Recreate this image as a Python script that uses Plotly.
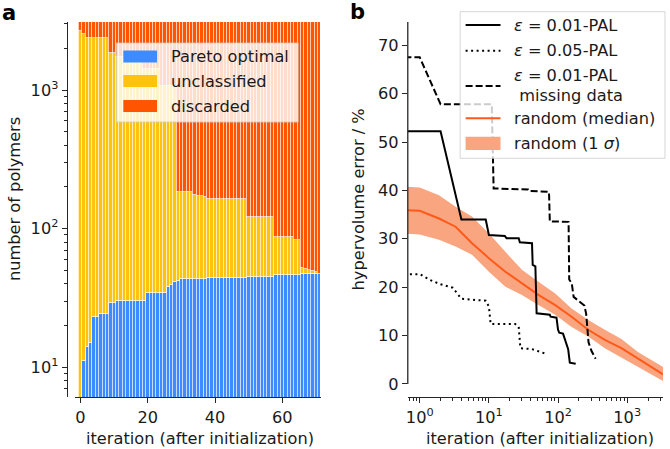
import plotly.graph_objects as go

W, H = 670, 449

# ---------------- Panel a data ----------------
iterations = list(range(72))
pareto_optimal = [0, 11, 14, 15, 23, 23, 24, 24, 24, 29, 29,
                  30, 30, 30, 30, 30, 30, 30, 30, 30,
                  34, 34, 34, 34, 34, 34,
                  38, 39, 41, 42,
                  43, 43, 43, 43, 43, 43, 43, 43,
                  44, 44, 44, 44, 44, 44, 44, 44, 44, 44, 44, 44,
                  45, 45, 45, 45, 45, 45, 45, 45,
                  46, 46, 46, 46, 46, 46, 46, 46,
                  47, 47, 47, 47, 47, 47]
unclassified = [2670, 2524, 2366, 2365, 2357, 2357, 2356, 2356, 2356, 1831, 1831,
                1710, 1710, 1710, 1710, 1710, 1710, 1710, 1710,
                1400, 1396, 1396, 1396, 1396,
                1036, 1036, 1032, 1031, 1029,
                143, 142, 142, 142, 142,
                132, 130, 130, 127,
                119, 119, 119, 119, 119, 119, 119, 119, 119, 119, 119, 119,
                76, 76, 76, 76, 76, 76, 76, 76,
                41, 41, 41, 41, 41, 41,
                37, 37,
                4.6, 4.0, 3.3, 2.6, 1.3, 0.3]
discarded = [430, 565, 720, 720, 720, 720, 720, 720, 720, 1240, 1240,
             1360, 1360, 1360, 1360, 1360, 1360, 1360, 1360,
             1670, 1670, 1670, 1670, 1670,
             2030, 2030, 2030, 2030, 2030,
             2915, 2915, 2915, 2915, 2915,
             2925, 2927, 2927, 2930,
             2937, 2937, 2937, 2937, 2937, 2937, 2937, 2937, 2937, 2937, 2937, 2937,
             2979, 2979, 2979, 2979, 2979, 2979, 2979, 2979,
             3013, 3013, 3013, 3013, 3013, 3013,
             3017, 3017,
             3048.4, 3049, 3049.7, 3050.4, 3051.7, 3052.7]
a_ytick_vals = [10, 100, 1000]
a_ytick_text = ["10<sup>1</sup>", "10<sup>2</sup>", "10<sup>3</sup>"]
a_xtick_vals = [0, 20, 40, 60]

# ---------------- Panel b data ----------------
pal001_x = [0.6, 2, 4, 9, 10, 17, 18, 27, 28, 42, 43, 47, 49, 76, 78, 95, 100, 104, 118, 140, 148, 180]
pal001_y = [52.2, 52.2, 34, 34, 30.8, 30.6, 30.1, 30.1, 29.3, 29.1, 24.6, 24.3, 14.6, 14.3, 13.9, 13.7,
            11.2, 10.6, 10.4, 7.2, 4.4, 4.2]
pal005_x = [0.6, 1, 1.4, 2, 3, 4, 9, 10, 10.6, 24, 27, 28.5, 42, 52, 68]
pal005_y = [22.7, 22.7, 21.5, 20.6, 19.9, 17.6, 17.2, 16.0, 12.4, 12.4, 11.8, 7.4, 7.2, 6.7, 6.2]
missing_x = [0.6, 1, 2, 11, 11.7, 37, 38, 74, 76, 142, 145, 158, 168, 240, 255, 262, 276, 305, 350]
missing_y = [67.5, 67.5, 57.8, 57.8, 40.4, 40.2, 39.9, 39.7, 33.6, 33.5, 21.6, 20.8, 18.0, 16.2, 14.5,
             11.8, 8.6, 6.8, 5.2]
random_x = [0.6, 1, 1.9, 3.3, 5.7, 10, 17.3, 30, 52, 91, 157, 273, 475, 825, 1430, 3300]
random_median = [35.9, 35.8, 34.2, 32.5, 29.1, 26.0, 23.2, 20.8, 18.4, 16.3, 13.9, 11.2, 9.1, 7.4, 5.2, 2.0]
random_upper = [40.8, 40.6, 39.0, 36.6, 34.6, 31.1, 27.3, 23.6, 21.1, 18.7, 15.6, 13.2, 11.2, 9.3, 6.6, 3.5]
random_lower = [31.1, 30.9, 29.8, 28.4, 26.7, 23.2, 20.1, 18.4, 16.3, 14.3, 11.8, 9.8, 7.4, 5.5, 3.5, 0.6]
b_ytick_vals = [0, 10, 20, 30, 40, 50, 60, 70]
b_xtick_vals = [1, 10, 100, 1000]
b_xtick_text = ["10<sup>0</sup>", "10<sup>1</sup>", "10<sup>2</sup>", "10<sup>3</sup>"]

# ---------------- styles ----------------
FONT = "DejaVu Sans"
TXT = "#1a1a1a"
SPINE = "#262626"
BLUE = "#3d8bff"
YELLOW = "#ffc20e"
ORANGE = "#ff5500"
MEDIAN = "#ff5a1a"
BAND = "rgb(249,165,128)"
FS = 16.2


def px(x):
    return x / W


def py(y):
    return 1 - y / H


fig = go.Figure()

# panel a bars
for name, vals, col in [("Pareto optimal", pareto_optimal, BLUE),
                        ("unclassified", unclassified, YELLOW),
                        ("discarded", discarded, ORANGE)]:
    fig.add_trace(go.Bar(x=iterations, y=vals, name=name, marker_color=col,
                         marker_line=dict(color="white", width=0.7), width=1,
                         xaxis="x", yaxis="y", showlegend=False))

# panel b band + median
fig.add_trace(go.Scatter(x=random_x, y=random_lower, mode="lines", line=dict(width=0, color=BAND),
                         xaxis="x2", yaxis="y2", showlegend=False, hoverinfo="skip"))
fig.add_trace(go.Scatter(x=random_x, y=random_upper, mode="lines", line=dict(width=0, color=BAND),
                         fill="tonexty", fillcolor=BAND, name="random (1 σ)",
                         xaxis="x2", yaxis="y2", showlegend=False))
fig.add_trace(go.Scatter(x=random_x, y=random_median, mode="lines", line=dict(width=2, color=MEDIAN),
                         name="random (median)", xaxis="x2", yaxis="y2", showlegend=False))
fig.add_trace(go.Scatter(x=pal001_x, y=pal001_y, mode="lines", line=dict(width=2, color="black"),
                         name="ε = 0.01-PAL", xaxis="x2", yaxis="y2", showlegend=False))
fig.add_trace(go.Scatter(x=pal005_x, y=pal005_y, mode="lines",
                         line=dict(width=2, color="black", dash="2px,3.5px"),
                         name="ε = 0.05-PAL", xaxis="x2", yaxis="y2", showlegend=False))
fig.add_trace(go.Scatter(x=missing_x, y=missing_y, mode="lines",
                         line=dict(width=2, color="black", dash="7px,3px"),
                         name="ε = 0.01-PAL missing data", xaxis="x2", yaxis="y2", showlegend=False))

tick_common = dict(ticks="outside", ticklen=5, tickwidth=1.3, tickcolor=SPINE,
                   tickfont=dict(family=FONT, size=FS, color=TXT), showgrid=False, zeroline=False)

fig.update_layout(
    width=W, height=H, autosize=False,
    margin=dict(l=0, r=0, t=0, b=0),
    paper_bgcolor="white", plot_bgcolor="white",
    barmode="stack", bargap=0,
    font=dict(family=FONT, size=FS, color=TXT),
    xaxis=dict(domain=[px(73), px(320)], range=[-1.7, 71.5], anchor="y",
               tickvals=a_xtick_vals, showline=True, linecolor=SPINE, linewidth=1.3,
               **tick_common),
    yaxis=dict(domain=[py(397), py(22)], type="log", range=[0.784, 3.4914],
               anchor="free", position=px(65),
               tickvals=a_ytick_vals, ticktext=a_ytick_text,
               showline=True, linecolor=SPINE, linewidth=1.3,
               minor=dict(ticks="outside", ticklen=3, tickwidth=1, tickcolor=SPINE,
                          tickvals=[7, 8, 9, 20, 30, 40, 50, 60, 70, 80, 90,
                                    200, 300, 400, 500, 600, 700, 800, 900, 2000, 3000]),
               **tick_common),
    xaxis2=dict(domain=[px(407), px(663)], type="log", range=[-0.173, 3.518], anchor="y2",
                tickvals=b_xtick_vals, ticktext=b_xtick_text,
                showline=True, linecolor=SPINE, linewidth=1.3,
                minor=dict(ticks="outside", ticklen=3, tickwidth=1, tickcolor=SPINE,
                           tickvals=[0.7, 0.8, 0.9, 2, 3, 4, 5, 6, 7, 8, 9,
                                     20, 30, 40, 50, 60, 70, 80, 90,
                                     200, 300, 400, 500, 600, 700, 800, 900, 2000, 3000]),
                **tick_common),
    yaxis2=dict(domain=[py(397), py(22)], range=[-2.69, 74.8], anchor="x2",
                tickvals=b_ytick_vals, showline=False, **tick_common),
)

shapes = []
ann = []

# right panel left spine (trimmed to 0..top)
shapes.append(dict(type="line", xref="paper", yref="y2", x0=px(407), x1=px(407), y0=0, y1=74.8,
                   line=dict(color=SPINE, width=1.3), layer="above"))

# ---------- legend a ----------
shapes.append(dict(type="rect", xref="paper", yref="paper", x0=px(115), x1=px(297), y0=py(122), y1=py(43),
                   fillcolor="rgba(255,255,255,0.8)", line=dict(color="rgba(204,204,204,0.8)", width=1),
                   layer="above"))
leg_a = [("Pareto optimal", BLUE, 50.5, 62.5), ("unclassified", YELLOW, 75, 87), ("discarded", ORANGE, 100, 112)]
for label, col, y0, y1 in leg_a:
    shapes.append(dict(type="rect", xref="paper", yref="paper", x0=px(121.7), x1=px(155.5),
                       y0=py(y1), y1=py(y0), fillcolor=col, line=dict(width=0), layer="above"))
    ann.append(dict(text=label, x=px(168), y=py((y0 + y1) / 2), xanchor="left", yanchor="middle"))

# ---------- legend b ----------
shapes.append(dict(type="rect", xref="paper", yref="paper", x0=px(459.5), x1=px(665), y0=py(158.3), y1=py(11.7),
                   fillcolor="rgba(255,255,255,0.8)", line=dict(color="rgba(204,204,204,0.8)", width=1),
                   layer="above"))
for yy, dash, col in [(25, "solid", "black"), (50.7, "2px,3.5px", "black"), (86, "7px,3px", "black"),
                      (118.3, "solid", MEDIAN)]:
    shapes.append(dict(type="line", xref="paper", yref="paper", x0=px(465), x1=px(500), y0=py(yy), y1=py(yy),
                       line=dict(color=col, width=2, dash=dash), layer="above"))
shapes.append(dict(type="rect", xref="paper", yref="paper", x0=px(465), x1=px(500), y0=py(150), y1=py(136.7),
                   fillcolor=BAND, line=dict(width=0), layer="above"))
for text, xx, yy in [("<i>ε</i> = 0.01-PAL", 512, 25), ("<i>ε</i> = 0.05-PAL", 512, 50.7),
                     ("<i>ε</i> = 0.01-PAL", 512, 75.5), (" missing data", 512, 95),
                     ("random (median)", 512, 118.3), ("random (1 <i>σ</i>)", 512, 143.3)]:
    ann.append(dict(text=text, x=px(xx), y=py(yy), xanchor="left", yanchor="middle"))

# axis titles
ann.append(dict(text="iteration (after initialization)", x=px(198.3), y=py(438), xanchor="center", yanchor="middle"))
ann.append(dict(text="iteration (after initialization)", x=px(539.3), y=py(438), xanchor="center", yanchor="middle"))
ann.append(dict(text="number of polymers", x=px(12), y=py(199), xanchor="center", yanchor="middle", textangle=-90))
ann.append(dict(text="hypervolume error / %", x=px(358), y=py(199.5), xanchor="center", yanchor="middle",
                textangle=-90))
# panel labels
ann.append(dict(text="<b>a</b>", x=px(7), y=py(13), xanchor="center", yanchor="middle",
                font=dict(family=FONT, size=21, color="black")))
ann.append(dict(text="<b>b</b>", x=px(357), y=py(12), xanchor="center", yanchor="middle",
                font=dict(family=FONT, size=21, color="black")))

for a in ann:
    a.setdefault("xref", "paper")
    a.setdefault("yref", "paper")
    a.setdefault("showarrow", False)
    a.setdefault("font", dict(family=FONT, size=FS, color=TXT))

fig.update_layout(shapes=shapes, annotations=ann)
fig.write_html("out.html", config={"displayModeBar": False},
               post_script="document.body.style.margin='0';")
